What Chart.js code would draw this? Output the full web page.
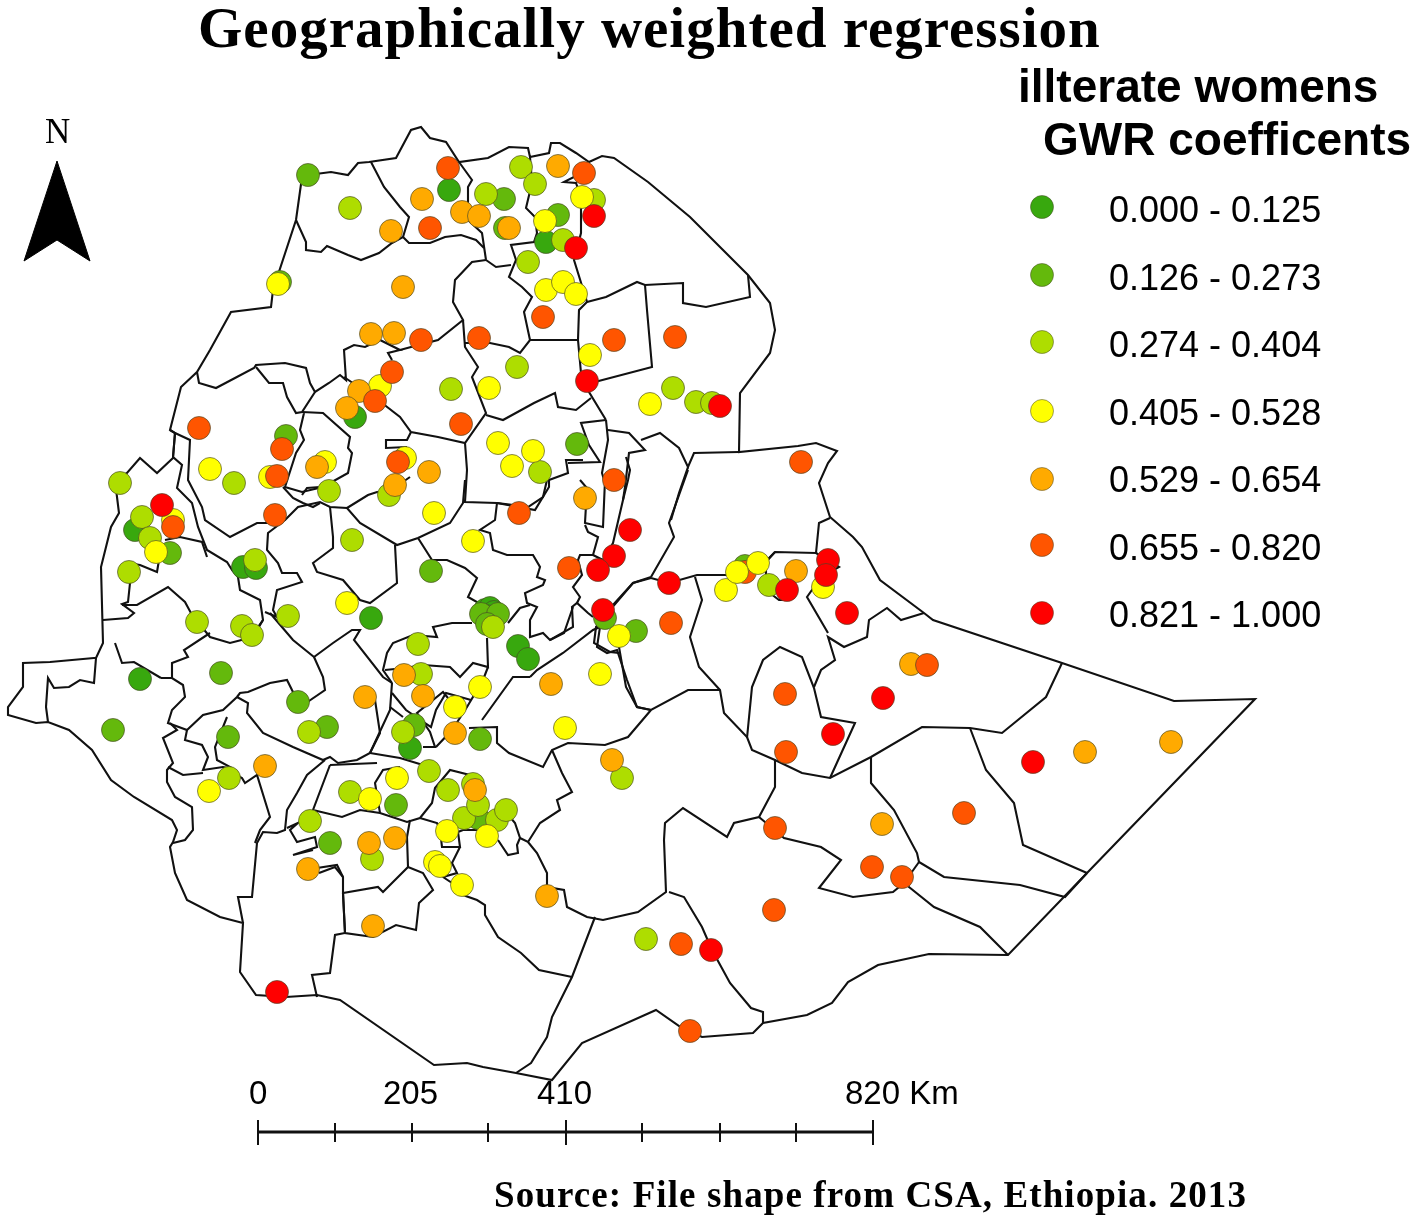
<!DOCTYPE html>
<html>
<head>
<meta charset="utf-8">
<title>Geographically weighted regression</title>
<script src="https://cdn.jsdelivr.net/npm/chart.js@4/dist/chart.umd.min.js"></script>
<style>
  html, body { margin: 0; padding: 0; background: #fff; }
  canvas { display: block; }
</style>
</head>
<body>
<canvas id="mapChart" width="1418" height="1224"></canvas>
<script>
// legend classes, lowest coefficient first
var classLabels = ["0.000 - 0.125", "0.126 - 0.273", "0.274 - 0.404", "0.405 - 0.528", "0.529 - 0.654", "0.655 - 0.820", "0.821 - 1.000"];
var classColors = ["#38a80e", "#64b90c", "#aedd00", "#ffff00", "#ffaa00", "#ff5500", "#ff0000"];

// survey points, one list per class
var class0 = [[449,190],[546,242],[355,417],[243,567],[256,568],[140,679],[410,748],[518,646],[528,659],[371,618],[135,530],[485,610],[490,608],[494,612],[486,616],[490,618],[495,617]];
var class1 = [[308,175],[504,199],[558,215],[286,436],[577,444],[505,228],[431,571],[221,673],[113,730],[298,702],[327,727],[228,737],[396,805],[330,843],[480,739],[414,725],[478,818],[636,631],[605,618],[280,282],[170,553],[481,614],[498,614],[487,624],[745,566]];
var class2 = [[350,208],[521,167],[535,184],[486,194],[594,200],[563,240],[528,262],[517,367],[451,389],[673,388],[696,402],[712,403],[540,472],[389,495],[329,491],[234,483],[120,483],[142,517],[150,538],[129,572],[352,540],[197,622],[242,626],[252,635],[288,616],[418,644],[421,674],[309,732],[403,732],[229,778],[350,792],[429,771],[448,790],[473,784],[464,818],[497,820],[506,810],[310,821],[372,859],[622,778],[646,939],[769,585],[493,627],[255,560],[478,805]];
var class3 = [[278,284],[582,197],[545,221],[546,290],[563,282],[576,294],[590,355],[489,388],[380,386],[650,404],[498,443],[533,451],[512,466],[325,462],[270,477],[210,469],[434,513],[473,541],[173,520],[156,552],[347,603],[480,687],[455,707],[600,674],[565,728],[619,636],[726,590],[823,587],[209,791],[397,778],[370,799],[447,831],[487,836],[435,862],[440,866],[462,885],[405,458]];
var class3Front = [[758,563],[737,572]];
var class4 = [[558,166],[422,199],[462,212],[479,216],[391,231],[509,228],[403,287],[371,334],[394,333],[359,391],[347,408],[317,467],[429,472],[395,485],[585,498],[551,684],[404,675],[423,696],[365,697],[455,733],[612,760],[265,766],[796,571],[369,843],[395,838],[308,869],[373,926],[475,790],[547,896],[882,824],[911,664],[1085,752],[1171,742]];
var class5 = [[448,168],[584,173],[430,228],[543,317],[614,340],[675,337],[479,338],[421,340],[392,372],[375,401],[461,424],[199,428],[282,449],[277,476],[398,462],[275,515],[173,527],[519,513],[614,480],[801,462],[569,568],[671,623],[785,694],[786,752],[775,828],[964,813],[872,867],[902,877],[774,910],[681,944],[690,1031],[927,665],[745,572]];
var class6 = [[594,216],[576,248],[587,381],[720,406],[162,505],[630,530],[614,556],[598,570],[603,610],[669,583],[828,560],[826,575],[787,590],[847,613],[883,698],[833,734],[1033,762],[711,950],[277,992]];
var classPoints = [class0, class1, class2, class3, class4, class5, class6];

var legendKeys = [[1042,207],[1042,275],[1042,342],[1042,411],[1042,479],[1042,545],[1042,613]];

// country outline
var outline = [[308,175],[331,172],[348,175],[358,163],[369,162],[396,158],[411,130],[421,127],[430,138],[446,142],[459,162],[488,158],[509,147],[528,148],[530,157],[549,153],[551,143],[560,143],[576,153],[589,162],[602,156],[614,158],[648,182],[690,217],[748,275],[770,303],[775,330],[770,353],[740,393],[739,452],[798,446],[816,443],[837,451],[828,463],[819,483],[830,517],[853,537],[862,547],[880,580],[924,613],[933,620],[1062,663],[1174,701],[1255,699],[1087,873],[1008,955],[929,954],[878,965],[848,982],[832,1003],[807,1015],[763,1023],[753,1033],[702,1037],[682,1028],[656,1010],[582,1043],[552,1080],[516,1073],[483,1067],[467,1063],[434,1065],[340,1000],[317,995],[286,997],[256,995],[240,972],[243,923],[220,917],[187,900],[175,873],[170,847],[173,842],[177,830],[172,820],[134,797],[111,780],[92,750],[69,730],[48,722],[36,723],[8,715],[8,707],[23,687],[23,663],[50,662],[94,658],[96,658],[103,643],[101,567],[111,527],[119,513],[117,497],[115,480],[127,473],[140,458],[157,473],[173,458],[175,433],[170,430],[181,387],[197,372],[210,350],[231,312],[271,307],[273,290],[296,220],[302,177],[308,175]];

// inner zone boundaries
var borders = [
  [[371,162],[384,187],[400,207],[409,217],[403,237],[392,243],[379,253],[361,260],[348,255],[327,246],[321,252],[306,250],[306,242],[296,220]],
  [[459,162],[472,180],[468,187],[468,220],[482,233],[486,260]],
  [[403,237],[409,243],[430,243],[445,237],[461,235],[476,240],[484,248]],
  [[530,157],[532,183],[526,208],[535,217],[537,233],[534,242],[511,245],[516,260],[509,277],[522,287],[532,297],[524,312],[530,340]],
  [[589,162],[578,175],[564,182],[576,183],[581,197],[581,233],[574,260],[587,302],[579,310],[578,340],[581,373],[589,392],[606,420]],
  [[587,302],[606,297],[637,282],[645,285],[683,283],[683,303],[706,307],[750,297],[748,275]],
  [[645,285],[647,310],[652,367],[591,383]],
  [[486,260],[496,267],[511,265]],
  [[486,260],[472,262],[455,280],[453,302],[463,320],[438,340],[411,347],[400,350]],
  [[197,372],[199,383],[216,388],[235,378],[254,368],[256,365],[285,363],[306,368],[310,383],[315,392],[329,383],[340,375],[346,380],[344,350],[354,345],[365,347],[380,340],[400,350],[388,353],[392,360]],
  [[256,367],[269,383],[283,383],[287,397],[296,413],[302,412],[315,392]],
  [[302,412],[323,413],[350,437],[348,448],[352,453],[348,473],[323,487],[302,492],[285,487],[296,453],[304,440],[300,430],[304,413]],
  [[344,377],[382,403],[400,417],[411,432],[438,437],[465,443],[486,413],[472,377],[478,367],[465,347],[463,320]],
  [[465,343],[490,343],[509,347],[520,353],[530,340],[578,340]],
  [[486,415],[503,420],[534,403],[555,393],[558,407],[576,410],[591,398]],
  [[465,443],[467,470],[465,502],[497,503],[535,510],[549,487],[549,480],[568,473],[566,460],[583,460]],
  [[606,420],[581,423],[589,445],[600,462],[568,463]],
  [[606,420],[608,440],[602,473],[604,480]],
  [[608,430],[629,433],[645,450],[629,453],[625,487],[623,500]],
  [[641,440],[660,433],[679,448],[688,467],[694,453],[739,452]],
  [[688,467],[679,493],[671,520]],
  [[411,432],[407,440],[386,440],[386,448],[407,447]],
  [[170,430],[175,433],[173,457],[182,465],[177,488],[192,503],[198,527],[207,550],[227,562],[232,570],[238,577],[240,590],[260,600],[263,620],[258,627]],
  [[175,433],[190,440],[188,480],[202,507],[205,520],[230,537],[257,523],[267,523],[285,520],[298,507],[320,502],[330,507],[347,508],[360,523],[397,545],[418,538],[450,523],[463,503],[465,480]],
  [[165,540],[180,537],[202,542],[207,557]],
  [[128,563],[140,565],[157,572],[159,560]],
  [[130,565],[130,583],[128,602],[122,604],[134,613],[128,618],[103,620]],
  [[122,605],[137,605],[168,587],[185,602],[192,615],[210,637],[230,643],[253,637],[263,620]],
  [[285,520],[268,533],[267,550],[278,563],[282,573],[297,573],[302,582],[277,590],[273,610],[277,617],[265,612]],
  [[270,613],[293,640],[314,657],[333,643],[352,630],[360,630],[354,640],[383,677],[392,683]],
  [[330,507],[333,537],[333,548],[313,563],[317,572],[343,580],[360,600],[370,603],[397,583],[395,545]],
  [[283,487],[293,498],[297,500],[303,503],[313,507],[320,503]],
  [[302,495],[307,488],[320,487]],
  [[347,508],[368,495],[377,492],[387,493],[410,477]],
  [[497,503],[495,520],[480,530],[490,533],[493,550],[507,555],[533,555],[540,567],[537,577],[545,580],[543,585],[525,593],[527,603],[537,607],[530,620],[530,637],[543,633],[550,640],[573,627],[572,607],[577,603],[588,613],[593,617]],
  [[530,605],[520,608],[508,623]],
  [[497,503],[513,505],[519,513],[543,497],[547,480]],
  [[418,538],[432,560],[447,560],[465,568],[477,578],[468,597],[477,602],[482,610]],
  [[472,623],[452,623],[433,627],[437,637],[413,635],[393,643],[387,653],[383,670],[392,683]],
  [[487,638],[488,667],[473,663],[460,677],[450,667],[423,665],[405,668],[385,670]],
  [[488,667],[483,680],[467,707],[452,730],[436,747]],
  [[530,677],[537,670],[563,653],[593,630],[600,627],[597,647],[607,653],[617,650],[627,680],[637,707],[651,710]],
  [[482,720],[513,677],[530,677]],
  [[580,480],[587,488],[585,523],[603,527],[605,480]],
  [[585,525],[588,532],[598,537],[593,555],[580,555],[578,560],[582,575],[573,587],[580,597],[577,603]],
  [[593,555],[603,560],[613,543],[623,500],[628,480],[630,470],[626,457]],
  [[600,627],[613,605],[633,583],[651,578]],
  [[210,633],[184,650],[188,657],[172,663],[172,678]],
  [[115,643],[122,663],[134,662],[161,678]],
  [[96,658],[94,683],[80,680],[69,687],[54,688],[48,678],[46,707],[48,722]],
  [[161,678],[172,678],[183,685],[185,697],[172,710],[168,723],[187,730],[203,715],[223,710],[237,697],[240,693],[248,692],[270,683],[287,680],[293,692],[306,703],[325,690],[323,677],[314,657]],
  [[237,697],[248,703],[247,713],[263,733],[293,747],[323,760],[330,757],[338,763],[357,760],[370,753],[390,710],[392,683]],
  [[375,700],[380,733],[370,753],[400,758],[423,765]],
  [[390,707],[403,717]],
  [[423,747],[435,747],[430,732],[417,713],[443,692],[448,698]],
  [[392,693],[406,710],[431,727],[436,710],[446,693],[471,700]],
  [[330,765],[313,810],[342,817],[360,810],[380,813],[407,822],[420,818],[432,803],[435,788],[450,770],[470,775],[483,780]],
  [[380,813],[375,783],[383,770],[400,767]],
  [[330,765],[377,763]],
  [[325,760],[307,775],[297,793],[287,810],[285,830],[277,833],[263,832],[257,843],[252,897],[238,897],[243,923]],
  [[287,828],[298,823],[290,830],[297,842],[315,837],[317,847],[293,855],[313,850]],
  [[317,868],[337,865],[343,877],[343,893],[378,887],[383,892],[408,867],[407,837],[410,820]],
  [[408,867],[423,873],[433,890],[419,903],[416,930],[396,925],[373,937],[345,933],[343,893]],
  [[187,730],[185,740],[202,745],[208,757],[203,770],[223,767],[228,768]],
  [[170,723],[177,730],[163,738],[173,763],[167,770],[167,782],[175,797],[192,807],[193,830],[185,840],[173,843]],
  [[168,767],[183,775],[203,773]],
  [[227,717],[215,747],[217,760],[232,768],[240,777],[242,778],[245,783],[257,775],[270,817],[260,830],[255,843]],
  [[420,818],[437,823],[440,830],[442,847],[460,847],[458,832],[463,830],[480,830]],
  [[460,847],[452,863],[457,873],[443,877],[452,883],[463,895],[477,900],[485,905],[485,915],[498,937],[521,953],[539,970],[572,977]],
  [[498,840],[508,855],[518,853],[517,845],[520,838],[515,823],[510,817]],
  [[469,728],[497,727],[497,743],[509,753],[543,767],[552,750],[568,743],[605,745],[628,737],[651,710]],
  [[552,750],[562,773],[572,792],[557,800],[560,810],[540,823],[528,842],[520,838]],
  [[528,842],[537,853],[547,873],[547,887],[564,890],[567,907],[587,917],[603,920],[638,912],[666,892],[664,840],[665,823],[683,808],[727,837],[734,823],[759,817],[775,787],[775,760]],
  [[573,607],[564,633],[550,640]],
  [[688,470],[669,523],[674,537],[651,577]],
  [[651,577],[633,583],[610,610],[596,627],[594,643],[610,652],[619,653]],
  [[651,578],[669,583],[697,575],[727,575],[757,570],[775,552],[816,553],[819,523],[830,518]],
  [[695,577],[702,600],[690,637],[699,667],[720,690],[724,713],[747,737],[752,750],[775,760],[802,773],[830,778],[871,757],[922,727],[970,728],[1002,733],[1046,697],[1062,663]],
  [[619,647],[626,687],[637,707],[651,710],[688,690],[720,690]],
  [[747,738],[752,687],[763,660],[780,647],[802,657],[814,688],[821,717],[855,723],[830,778]],
  [[814,687],[821,670],[835,660],[828,637],[844,647],[867,637],[869,620],[887,608],[901,620],[924,613]],
  [[819,580],[807,597],[828,633]],
  [[816,553],[839,567],[816,580]],
  [[775,552],[766,562],[766,590],[779,600],[789,600]],
  [[759,817],[784,838],[821,847],[841,860],[819,888],[853,897],[893,892],[904,883],[934,907],[980,927],[1008,955]],
  [[871,757],[871,783],[894,810],[917,853],[919,862],[944,877],[1020,885],[1065,897],[1087,873]],
  [[904,883],[919,862]],
  [[970,728],[986,770],[1014,803],[1023,845],[1087,873]],
  [[669,892],[684,897],[702,927],[712,950],[730,983],[751,1008],[763,1012],[763,1023]],
  [[595,917],[572,977],[552,1017],[547,1037],[531,1063],[516,1073]],
  [[343,893],[345,933],[335,935],[330,973],[312,975],[317,997]],
  [[319,873],[335,867],[343,877]]
];

// north arrow and scale bar
var northArrow = [[57,161],[90,261],[57,240],[24,261],[57,161]];
var scaleBar = [[258,1132],[873,1132]];
var scaleMajor = [258,566,873];
var scaleMinor = [335,412,488,642,720,796];

function toXY(list) {
    return list.map(function (p) { return { x: p[0], y: p[1] }; });
}

function lineSet(list, width, order) {
    return {
        type: 'line',
        data: toXY(list),
        borderColor: '#111',
        borderWidth: width,
        pointRadius: 0,
        tension: 0,
        fill: false,
        order: order
    };
}

var datasets = [];

datasets.push(lineSet(outline, 2.1, 20));
borders.forEach(function (b) {
    datasets.push(lineSet(b, 2.1, 20));
});

datasets.push(lineSet(scaleBar, 3, 20));
scaleMajor.forEach(function (x) {
    datasets.push(lineSet([[x, 1120], [x, 1145]], 2, 20));
});
scaleMinor.forEach(function (x) {
    datasets.push(lineSet([[x, 1123], [x, 1142]], 2, 20));
});

datasets.push({
    type: 'line',
    data: toXY(northArrow),
    borderColor: '#000',
    backgroundColor: '#000',
    borderWidth: 1,
    pointRadius: 0,
    tension: 0,
    fill: 'shape',
    order: 20
});

function pointSet(pts, i, order) {
    return {
        type: 'scatter',
        label: classLabels[i],
        data: toXY(pts),
        backgroundColor: classColors[i],
        borderColor: 'rgba(70,70,40,0.65)',
        borderWidth: 1,
        pointRadius: 11.5,
        order: order
    };
}

classPoints.forEach(function (pts, i) {
    datasets.push(pointSet(pts, i, 7 - i));
});
// these yellow ones sit on top of the reds in the eastern cluster
datasets.push(pointSet(class3Front, 3, 0));

datasets.push({
    type: 'scatter',
    data: toXY(legendKeys),
    pointBackgroundColor: classColors,
    pointBorderColor: 'rgba(70,70,40,0.5)',
    pointBorderWidth: 1,
    pointRadius: 11.5,
    order: 1
});

// all the wording on the page
var textItems = [
    { s: "Geographically weighted regression", x: 198, y: 47, font: "bold 57px 'Liberation Serif'", gap: "1px" },
    { s: "illterate womens", x: 1018, y: 102, font: "bold 46px 'Liberation Sans'", gap: "0px" },
    { s: "GWR coefficents", x: 1043, y: 155, font: "bold 46px 'Liberation Sans'", gap: "0px" },
    { s: "N", x: 45, y: 143, font: "35px 'Liberation Serif'", gap: "0px" },
    { s: "0", x: 249, y: 1104, font: "33px 'Liberation Sans'", gap: "0px" },
    { s: "205", x: 383, y: 1104, font: "33px 'Liberation Sans'", gap: "0px" },
    { s: "410", x: 537, y: 1104, font: "33px 'Liberation Sans'", gap: "0px" },
    { s: "820 Km", x: 845, y: 1104, font: "33px 'Liberation Sans'", gap: "0px" },
    { s: "Source: File shape from CSA, Ethiopia. 2013", x: 494, y: 1207, font: "bold 37px 'Liberation Serif'", gap: "1.1px" }
];
var labelBaselines = [222, 290, 357, 425, 492, 560, 627];

var pageText = {
    id: 'pageText',
    afterDraw: function (chart) {
        var ctx = chart.ctx;
        ctx.save();
        ctx.fillStyle = '#000';
        ctx.textBaseline = 'alphabetic';
        ctx.textAlign = 'left';
        textItems.forEach(function (t) {
            ctx.font = t.font;
            ctx.letterSpacing = t.gap;
            ctx.fillText(t.s, t.x, t.y);
        });
        ctx.letterSpacing = "0px";
        ctx.font = "36px 'Liberation Sans'";
        classLabels.forEach(function (s, i) {
            ctx.fillText(s, 1109, labelBaselines[i]);
        });
        ctx.restore();
    }
};

new Chart(document.getElementById("mapChart"), {
    type: 'scatter',
    data: { datasets: datasets },
    plugins: [pageText],
    options: {
        responsive: false,
        animation: false,
        events: [],
        clip: false,
        layout: { padding: 0, autoPadding: false },
        plugins: {
            legend: { display: false },
            tooltip: { enabled: false },
            title: { display: false }
        },
        scales: {
            x: { type: 'linear', min: 0, max: 1418, display: false },
            y: { type: 'linear', min: 0, max: 1224, reverse: true, display: false }
        }
    }
});
</script>
</body>
</html>
